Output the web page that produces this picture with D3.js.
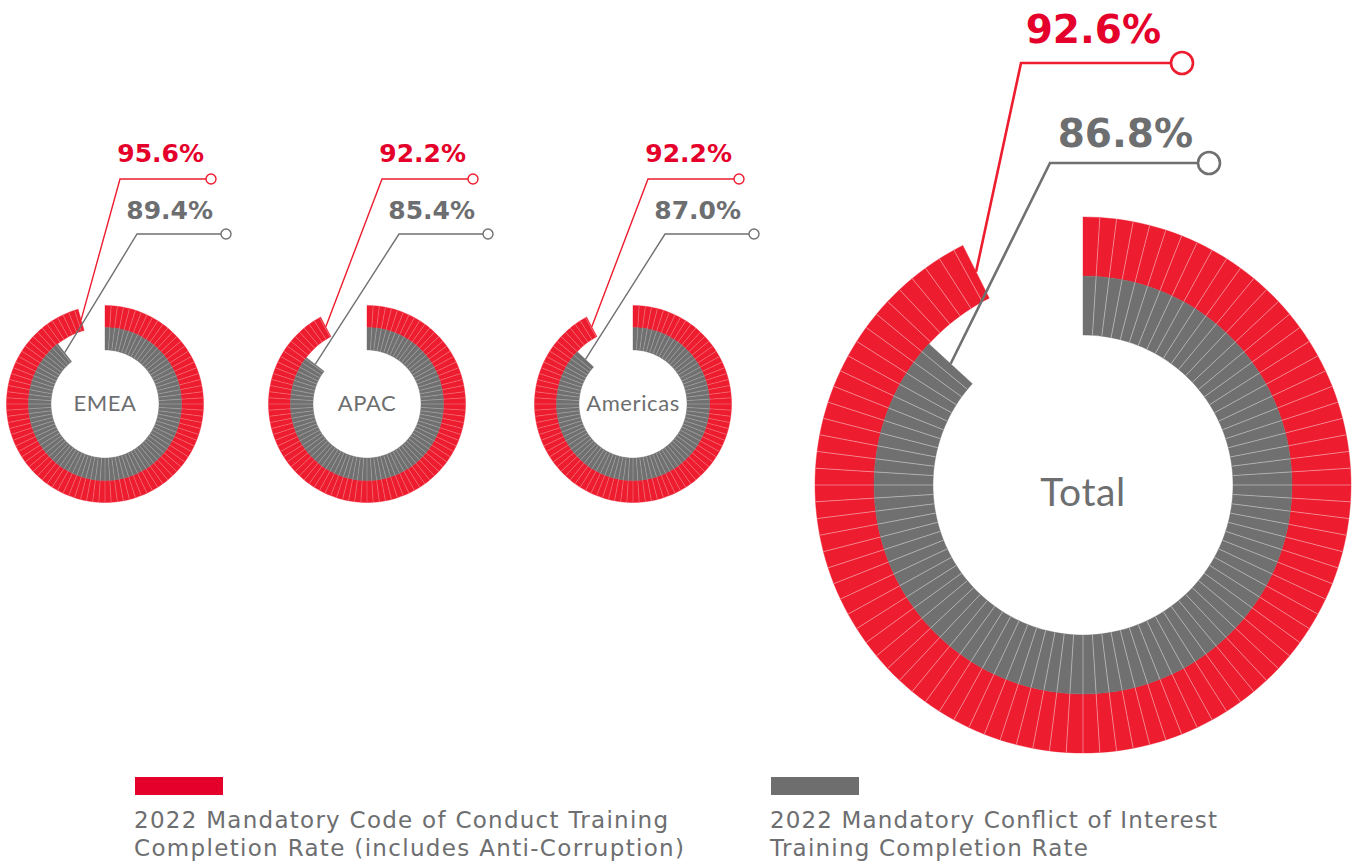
<!DOCTYPE html>
<html>
<head>
<meta charset="utf-8">
<script src="https://cdn.jsdelivr.net/npm/d3@7/dist/d3.min.js"></script>
<style>
  html, body { margin: 0; padding: 0; background: #ffffff; }
  svg { display: block; }
</style>
</head>
<body>
<svg id="chart" width="1355" height="865"></svg>
<script>
// Training completion rates by region
const regions = ["EMEA", "APAC", "Americas", "Total"];
const codeOfConductRate = [95.6, 92.2, 92.2, 92.6];
const conflictOfInterestRate = [89.4, 85.4, 87.0, 86.8];
const legendLabels = [
  ["2022 Mandatory Code of Conduct Training", "Completion Rate (includes Anti-Corruption)"],
  ["2022 Mandatory Conflict of Interest", "Training Completion Rate"]
];

const RED = "#ed1c2e";
const GREY = "#6f706f";
const RED_TEXT = "#e4002b";
const GREY_TEXT = "#6d6e70";

// layout of each donut: ring radii and label anchors (x relative to centre, y absolute)
const small = {
  r: [98.5, 76.5, 54], labelSize: 25, centerSize: 22, centerDy: 7, sep: 0.6, lw: 1.4, dot: 5,
  red:  { tx: 99,  ty: 162, kx: 15, ky: 179, cx: 106, cy: 179 },
  grey: { tx: 108, ty: 219, kx: 32, ky: 234, cx: 121, cy: 234 }
};
const big = {
  r: [268, 209, 150], labelSize: 39, centerSize: 39, centerDy: 21, sep: 1, lw: 2.6, dot: 11,
  red:  { tx: 78,  ty: 43,  kx: -62, ky: 63,  cx: 99,  cy: 63 },
  grey: { tx: 110, ty: 147, kx: -33, ky: 163, cx: 126, cy: 163 }
};
const centres = [
  { x: 105, y: 404, L: small },
  { x: 367, y: 404, L: small },
  { x: 633, y: 404, L: small },
  { x: 1083, y: 485, L: big }
];

const svg = d3.select("#chart");
const angle = d3.scaleLinear().domain([0, 100]).range([0, 2 * Math.PI]);

function drawRing(g, value, r0, r1, color, sepW) {
  // one segment per percentage point, the last one partial
  const segs = [];
  for (let k = 0; k < value; k++) segs.push([k, Math.min(k + 1, value)]);
  const arc = d3.arc().innerRadius(r0).outerRadius(r1);
  g.append("g").selectAll("path").data(segs).join("path")
    .attr("d", d => arc({ startAngle: angle(d[0]), endAngle: angle(d[1]) }))
    .attr("fill", color)
    .attr("stroke", color)
    .attr("stroke-width", 0.4);
  // thin light separators between segments
  const ticks = d3.range(1, Math.ceil(value));
  g.append("g").selectAll("line").data(ticks).join("line")
    .attr("x1", d => d3.pointRadial(angle(d), r0)[0])
    .attr("y1", d => d3.pointRadial(angle(d), r0)[1])
    .attr("x2", d => d3.pointRadial(angle(d), r1)[0])
    .attr("y2", d => d3.pointRadial(angle(d), r1)[1])
    .attr("stroke", "#ffffff")
    .attr("stroke-opacity", 0.4)
    .attr("stroke-width", sepW);
}

function drawLeader(g, value, rMid, spec, color, L, cy) {
  const end = d3.pointRadial(angle(value), rMid);
  const knee = [spec.kx, spec.ky - cy];
  const dot = [spec.cx, spec.cy - cy];
  g.append("polyline")
    .attr("points", [end, knee, dot].map(p => p.join(",")).join(" "))
    .attr("fill", "none")
    .attr("stroke", color)
    .attr("stroke-width", L.lw);
  g.append("circle")
    .attr("cx", dot[0]).attr("cy", dot[1]).attr("r", L.dot)
    .attr("fill", "#ffffff")
    .attr("stroke", color)
    .attr("stroke-width", L.lw);
}

const fmt = d3.format(".1f");
regions.forEach((name, i) => {
  const c = centres[i], L = c.L;
  const g = svg.append("g").attr("transform", `translate(${c.x},${c.y})`);
  drawRing(g, codeOfConductRate[i], L.r[1], L.r[0], RED, L.sep);
  drawRing(g, conflictOfInterestRate[i], L.r[2], L.r[1], GREY, L.sep);

  g.append("text")
    .attr("x", 0).attr("y", L.centerDy)
    .attr("text-anchor", "middle")
    .attr("font-family", "Lato, 'Open Sans', sans-serif")
    .attr("font-weight", 400)
    .attr("font-size", L.centerSize)
    .attr("letter-spacing", 0.6)
    .attr("fill", GREY_TEXT)
    .text(name);

  drawLeader(g, codeOfConductRate[i], (L.r[0] + L.r[1]) / 2, L.red, RED, L, c.y);
  drawLeader(g, conflictOfInterestRate[i], (L.r[1] + L.r[2]) / 2, L.grey, GREY, L, c.y);

  g.append("text")
    .attr("x", L.red.tx).attr("y", L.red.ty - c.y)
    .attr("text-anchor", "end")
    .attr("font-family", "'DejaVu Sans', sans-serif")
    .attr("font-weight", 700)
    .attr("font-size", L.labelSize)
    .attr("fill", RED_TEXT)
    .text(fmt(codeOfConductRate[i]) + "%");
  g.append("text")
    .attr("x", L.grey.tx).attr("y", L.grey.ty - c.y)
    .attr("text-anchor", "end")
    .attr("font-family", "'DejaVu Sans', sans-serif")
    .attr("font-weight", 700)
    .attr("font-size", L.labelSize)
    .attr("fill", GREY_TEXT)
    .text(fmt(conflictOfInterestRate[i]) + "%");
});

// legend
const legendX = [134, 770];
const legendColors = ["#e4002b", "#6d6e6d"];
const legendWidths = [[534, 550], [447, 318]];
legendLabels.forEach((lines, i) => {
  const g = svg.append("g").attr("transform", `translate(${legendX[i]},0)`);
  g.append("rect").attr("x", 1).attr("y", 777).attr("width", 88).attr("height", 18).attr("fill", legendColors[i]);
  lines.forEach((t, j) => {
    g.append("text")
      .attr("x", 0).attr("y", 828 + j * 28)
      .attr("font-family", "'DejaVu Sans', sans-serif")
      .attr("font-size", 23)
      .attr("fill", GREY_TEXT)
      .attr("textLength", legendWidths[i][j])
      .attr("lengthAdjust", "spacing")
      .text(t);
  });
});
</script>
</body>
</html>
